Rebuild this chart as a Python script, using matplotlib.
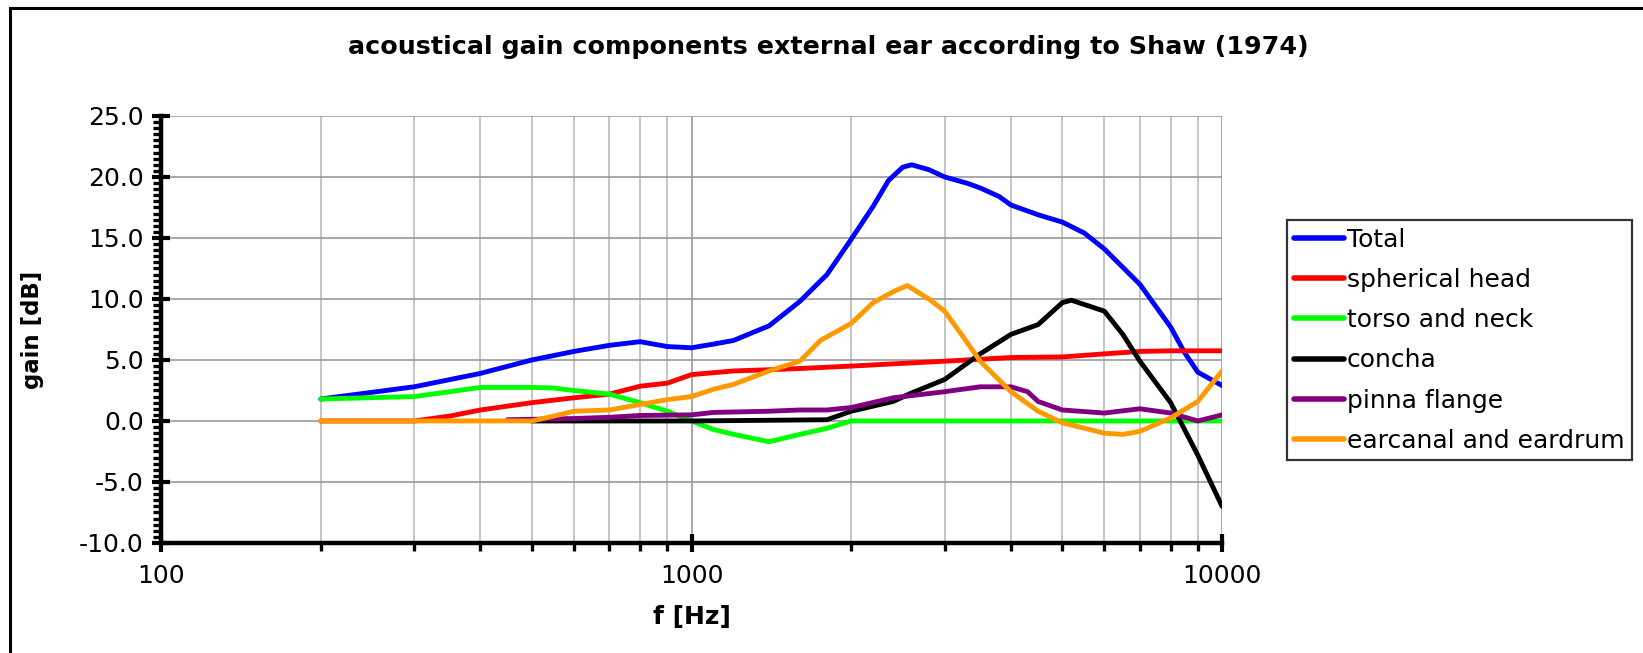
import matplotlib
matplotlib.use("Agg")
import matplotlib.pyplot as plt
from matplotlib.ticker import FixedLocator, MultipleLocator, FuncFormatter
from matplotlib.lines import Line2D

title = "acoustical gain components external ear according to Shaw (1974)"
labels = ["Total", "spherical head", "torso and neck", "concha", "pinna flange", "earcanal and eardrum"]
colors = ["#0000ff", "#ff0000", "#00ff00", "#000000", "#800080", "#ff9900"]

f_total = [200, 300, 400, 500, 600, 700, 800, 900, 1000, 1100, 1200, 1400, 1600, 1800, 2000,
           2200, 2350, 2500, 2600, 2800, 3000, 3300, 3500, 3800, 4000, 4500, 5000, 5500, 6000, 7000,
           8000, 8500, 9000, 10000]
g_total = [1.8, 2.8, 3.9, 5.0, 5.7, 6.2, 6.5, 6.1, 6.0, 6.3, 6.6, 7.8, 9.8, 12.0, 14.9,
           17.6, 19.7, 20.8, 21.0, 20.6, 20.0, 19.5, 19.1, 18.4, 17.7, 16.9, 16.3, 15.4, 14.1, 11.2,
           7.7, 5.6, 4.0, 2.9]

f_head = [200, 300, 350, 400, 500, 600, 700, 800, 900, 1000, 1200, 1400, 1600, 2000, 3000, 4000,
          5000, 6000, 7000, 8000, 10000]
g_head = [0, 0, 0.4, 0.9, 1.5, 1.9, 2.2, 2.85, 3.1, 3.8, 4.1, 4.2, 4.3, 4.5, 4.9, 5.2,
          5.25, 5.5, 5.7, 5.75, 5.75]

f_torso = [200, 300, 350, 400, 500, 550, 600, 700, 800, 900, 1000, 1100, 1200, 1400, 1600, 1800, 2000, 10000]
g_torso = [1.8, 2.0, 2.4, 2.75, 2.75, 2.7, 2.5, 2.2, 1.5, 0.8, 0.0, -0.7, -1.1, -1.7, -1.1, -0.6, 0.0, 0.0]

f_concha = [500, 1000, 1800, 2000, 2400, 2600, 3000, 3500, 4000, 4500, 5000, 5200, 6000, 6500,
            7000, 8000, 9000, 10000]
g_concha = [0, 0, 0.1, 0.8, 1.6, 2.3, 3.4, 5.5, 7.1, 7.9, 9.7, 9.9, 9.0, 7.1,
            4.9, 1.5, -2.8, -7.0]

f_pinna = [450, 600, 700, 800, 1000, 1100, 1400, 1600, 1800, 2000, 2400, 3000, 3500, 4000, 4300,
           4500, 5000, 6000, 7000, 8000, 9000, 10000]
g_pinna = [0.1, 0.2, 0.3, 0.45, 0.5, 0.7, 0.8, 0.9, 0.9, 1.1, 1.9, 2.4, 2.8, 2.8, 2.4,
           1.6, 0.9, 0.65, 1.0, 0.65, 0.0, 0.5]

f_canal = [200, 500, 550, 600, 700, 800, 900, 1000, 1100, 1200, 1400, 1600, 1750, 2000, 2200, 2400,
           2550, 2800, 3000, 3250, 3500, 4000, 4500, 5000, 6000, 6500, 7000, 8000, 9000, 10000]
g_canal = [0, 0, 0.4, 0.8, 0.9, 1.35, 1.75, 2.0, 2.6, 3.0, 4.1, 4.9, 6.6, 8.0, 9.7, 10.6,
           11.1, 10.0, 9.0, 6.9, 4.9, 2.4, 0.8, -0.15, -1.0, -1.1, -0.85, 0.25, 1.6, 4.1]

series = [(f_total, g_total), (f_head, g_head), (f_torso, g_torso),
          (f_concha, g_concha), (f_pinna, g_pinna), (f_canal, g_canal)]

plt.rcParams['font.family'] = ['DejaVu Sans']

fig = plt.figure(figsize=(16.43, 6.53), dpi=100)
ax = fig.add_axes([0.098, 0.1685, 0.6458, 0.6539])

for (f, g), lab, c in zip(series, labels, colors):
    ax.plot(f, g, color=c, lw=3.5, label=lab, solid_capstyle='round', solid_joinstyle='round', zorder=3)

ax.set_xscale('log')
ax.set_xlim(100, 10000)
ax.set_ylim(-10, 25)

# grid and ticks
ax.yaxis.set_major_locator(MultipleLocator(5))
ax.yaxis.set_minor_locator(MultipleLocator(0.5))
ax.yaxis.set_major_formatter(FuncFormatter(lambda v, p: "%.1f" % v))
ax.xaxis.set_major_locator(FixedLocator([100, 1000, 10000]))
ax.xaxis.set_minor_locator(FixedLocator([200, 300, 400, 500, 600, 700, 800, 900,
                                         2000, 3000, 4000, 5000, 6000, 7000, 8000, 9000]))
ax.xaxis.set_major_formatter(FuncFormatter(lambda v, p: "%d" % v))
ax.xaxis.set_minor_formatter(FuncFormatter(lambda v, p: ""))
ax.grid(True, axis='y', which='major', color='#999999', lw=1.2, zorder=0)
ax.grid(True, axis='x', which='major', color='#999999', lw=1.2, zorder=0)
ax.grid(True, axis='x', which='minor', color='#bbbbbb', lw=1.2, zorder=0)

for s in ['top', 'right']:
    ax.spines[s].set_visible(False)
for s in ['left', 'bottom']:
    ax.spines[s].set_linewidth(3.2)

ax.tick_params(which='major', direction='inout', length=13, width=3, labelsize=18, pad=6)
ax.tick_params(which='minor', direction='out', length=6, width=2.4)
ax.tick_params(axis='x', which='major', pad=9)

ax.set_xlabel("f [Hz]", fontsize=18, fontweight='bold', labelpad=12)
ax.set_ylabel("gain [dB]", fontsize=16.5, fontweight='bold', labelpad=25)

fig.text(0.504, 0.928, title, ha='center', va='center', fontsize=18.3, fontweight='bold')

leg = ax.legend(loc='upper left', bbox_to_anchor=(0.7833, 0.663), bbox_transform=fig.transFigure,
                borderaxespad=0, fontsize=18, frameon=True, fancybox=False, handlelength=2.0,
                handletextpad=0.1, labelspacing=0.65, borderpad=0.3)
leg.get_frame().set_edgecolor('black')
leg.get_frame().set_linewidth(1.6)
for h in leg.get_lines():
    h.set_linewidth(4)

# outer chart frame (top and left edges visible)
fig.add_artist(Line2D([10 / 1643, 10 / 1643], [0, 1 - 7.5 / 653], transform=fig.transFigure, color='black', lw=2.2))
fig.add_artist(Line2D([10 / 1643, 1], [1 - 7.5 / 653, 1 - 7.5 / 653], transform=fig.transFigure, color='black', lw=2.2))

fig.savefig("out.png", dpi=100)
